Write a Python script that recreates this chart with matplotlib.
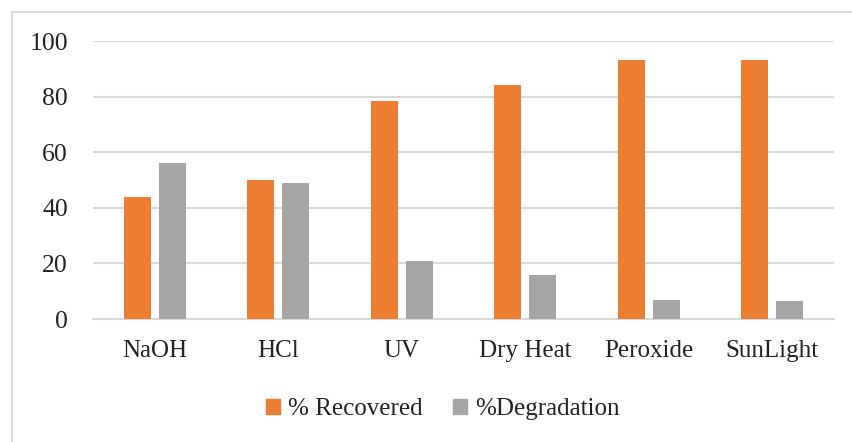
import matplotlib.pyplot as plt
import numpy as np
from matplotlib.lines import Line2D
from matplotlib.patches import Patch

# datos del grafico
categorias = ['NaOH', 'HCl', 'UV', 'Dry Heat', 'Peroxide', 'SunLight']
recuperado = [44, 50, 78.5, 84, 93, 93]
degradacion = [56, 49, 21, 16, 7, 6.5]
yticks = [0, 20, 40, 60, 80, 100]

naranja = '#ED7D31'
gris = '#A5A5A5'
linea = '#D9D9D9'

plt.rcParams['font.family'] = ['Liberation Serif', 'DejaVu Serif']

fig = plt.figure(figsize=(8.52, 4.42), dpi=100)
ax = fig.add_axes([93/852, 1-319/442, (834-93)/852, (319-41)/442])

x = np.arange(len(categorias))
ancho = 0.22
ax.bar(x - 0.142, recuperado, ancho, color=naranja, zorder=3)
ax.bar(x + 0.142, degradacion, ancho, color=gris, zorder=3)

ax.set_xlim(-0.5, len(categorias) - 0.5)
ax.set_ylim(0, 100)
ax.set_yticks(yticks)
ax.set_xticks(x)
ax.set_xticklabels(categorias, fontsize=18)
ax.tick_params(axis='y', length=0, pad=18, labelsize=18.5, colors='#222222')
ax.tick_params(axis='x', length=0, pad=15, colors='#222222')
ax.grid(axis='y', color=linea, linewidth=1.5, zorder=0)
for lado in ['top', 'right', 'left']:
    ax.spines[lado].set_visible(False)
ax.spines['bottom'].set_color(linea)
ax.spines['bottom'].set_linewidth(1.5)

# borde del grafico
fig.add_artist(Line2D([11.5/852, 11.5/852], [0, 1-12/442], color=linea, linewidth=1.5))
fig.add_artist(Line2D([11.5/852, 1], [1-12/442, 1-12/442], color=linea, linewidth=1.5))

# leyenda
manijas = [Patch(color=naranja, label='% Recovered'), Patch(color=gris, label='%Degradation')]
fig.legend(handles=manijas, loc='center', bbox_to_anchor=(443/852, 1-409/442), ncol=2,
           frameon=False, fontsize=18, handlelength=0.56, handleheight=0.56,
           handletextpad=0.32, columnspacing=1.2, labelcolor='#222222')

fig.savefig('out.png', dpi=100)
